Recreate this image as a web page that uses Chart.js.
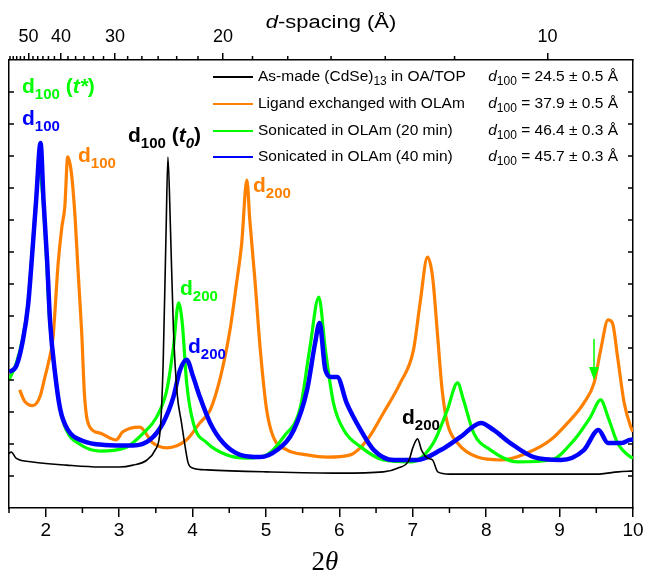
<!DOCTYPE html>
<html>
<head>
<meta charset="utf-8">
<script src="https://cdn.jsdelivr.net/npm/chart.js@4/dist/chart.umd.min.js"></script>
<style>
  html, body { margin: 0; padding: 0; background: #fff; }
  #wrap { width: 645px; height: 574px; }
</style>
</head>
<body>
<div id="wrap"><canvas id="xrd"></canvas></div>
<script>
// Cu K-alpha wavelength (Angstrom) for the d-spacing axis
const LAMBDA = 1.5406;

// As-made (CdSe)13 in OA/TOP
const ttBlack = [1.50, 1.53, 1.60, 1.82, 2.28, 2.74, 3.00, 3.19, 3.38, 3.49, 3.56, 3.60, 3.64, 3.665, 3.70, 3.74, 3.79, 3.85, 3.90, 3.94, 4.00, 4.20, 5.00, 6.00, 6.60, 6.80, 6.95, 7.00, 7.065, 7.12, 7.20, 7.27, 7.34, 7.50, 8.50, 9.50, 9.80, 10.0];
const iBlack  = [1.70, 1.75, 1.55, 1.44, 1.34, 1.28, 1.28, 1.34, 1.50, 1.81, 2.44, 4.53, 8.69, 10.97, 8.69, 5.56, 3.59, 2.66, 1.91, 1.41, 1.25, 1.19, 1.13, 1.09, 1.13, 1.25, 1.50, 1.88, 2.16, 1.81, 1.56, 1.50, 1.13, 1.06, 1.06, 1.06, 1.13, 1.16];

// Ligand exchanged with OLAm
const ttOrange = [1.645, 1.71, 1.82, 1.92, 1.99, 2.03, 2.10, 2.17, 2.22, 2.26, 2.30, 2.35, 2.40, 2.44, 2.49, 2.53, 2.60, 2.74, 2.96, 3.05, 3.28, 3.46, 3.65, 3.92, 4.10, 4.24, 4.38, 4.51, 4.60, 4.67, 4.74, 4.78, 4.85, 4.92, 5.01, 5.10, 5.29, 5.56, 5.83, 6.15, 6.38, 6.60, 6.83, 7.01, 7.10, 7.20, 7.27, 7.34, 7.40, 7.47, 7.61, 7.88, 8.20, 8.56, 8.88, 9.11, 9.33, 9.47, 9.56, 9.66, 9.72, 9.79, 9.88, 9.97, 10.0];
const iOrange  = [3.69, 3.35, 3.20, 3.47, 4.10, 4.47, 5.34, 7.66, 8.78, 9.41, 10.97, 10.47, 9.09, 7.44, 5.50, 3.47, 2.53, 2.34, 2.13, 2.38, 2.53, 2.03, 1.88, 2.13, 2.66, 3.06, 4.09, 5.56, 7.03, 8.28, 10.25, 9.00, 7.13, 5.03, 3.06, 2.22, 1.81, 1.66, 1.59, 1.66, 2.13, 2.97, 3.91, 4.94, 6.41, 7.84, 7.22, 5.34, 3.69, 2.66, 2.03, 1.59, 1.50, 1.72, 2.13, 2.66, 3.28, 3.91, 4.94, 5.88, 5.78, 4.72, 3.28, 2.53, 2.38];

// Sonicated in OLAm (20 min)
const ttGreen = [1.50, 1.60, 1.69, 1.76, 1.82, 1.87, 1.91, 1.96, 2.01, 2.05, 2.12, 2.19, 2.28, 2.46, 2.74, 3.10, 3.33, 3.51, 3.65, 3.74, 3.81, 3.86, 3.92, 4.01, 4.20, 4.47, 4.74, 5.01, 5.24, 5.47, 5.60, 5.72, 5.81, 5.92, 6.06, 6.29, 6.60, 6.97, 7.28, 7.47, 7.61, 7.69, 7.83, 8.06, 8.43, 8.88, 9.20, 9.42, 9.56, 9.66, 9.79, 9.97, 10.0];
const iGreen  = [4.00, 4.53, 5.34, 6.41, 8.16, 9.72, 10.6, 9.72, 7.84, 5.97, 4.31, 3.16, 2.44, 2.00, 1.78, 1.90, 2.34, 2.84, 3.69, 5.03, 6.41, 5.78, 3.91, 2.66, 2.03, 1.66, 1.56, 1.66, 2.22, 3.16, 5.03, 6.59, 4.94, 3.28, 2.44, 1.91, 1.50, 1.44, 2.03, 3.06, 3.91, 3.38, 2.34, 1.81, 1.44, 1.50, 2.13, 2.84, 3.38, 2.84, 2.03, 1.59, 1.56];

// Sonicated in OLAm (40 min)
const ttBlue = [1.50, 1.60, 1.69, 1.76, 1.82, 1.87, 1.93, 1.97, 2.02, 2.06, 2.13, 2.20, 2.30, 2.50, 2.80, 3.19, 3.42, 3.60, 3.74, 3.83, 3.92, 4.01, 4.10, 4.24, 4.42, 4.65, 4.92, 5.15, 5.38, 5.56, 5.67, 5.73, 5.81, 5.90, 5.97, 6.10, 6.29, 6.47, 6.74, 7.06, 7.38, 7.65, 7.93, 8.10, 8.33, 8.65, 9.02, 9.33, 9.53, 9.66, 9.84, 9.97, 10.0];
const iBlue  = [4.25, 4.44, 5.25, 6.34, 8.06, 9.63, 11.41, 9.63, 7.69, 5.81, 4.16, 3.06, 2.45, 2.10, 1.97, 1.95, 2.13, 2.66, 3.47, 4.31, 4.63, 4.09, 3.47, 2.66, 2.03, 1.66, 1.59, 1.81, 2.44, 3.69, 5.16, 5.78, 4.31, 4.09, 4.09, 3.28, 2.44, 1.81, 1.50, 1.50, 1.81, 2.22, 2.66, 2.44, 2.03, 1.59, 1.50, 1.81, 2.44, 2.03, 2.03, 2.13, 2.13];

// axis ticks
const xTicks = [2, 3, 4, 5, 6, 7, 8, 9, 10];
const xMinor = [1.5, 2.5, 3.5, 4.5, 5.5, 6.5, 7.5, 8.5, 9.5];
const dTicks = [50, 40, 30, 20, 10];
const dMinor = [58.33, 56.67, 55, 53.33, 51.67, 48.33, 46.67, 45, 43.33, 41.67, 38.33, 36.67, 35, 33.33, 31.67,
                28.33, 26.67, 25, 23.33, 21.67, 18.33, 16.67, 15, 13.33, 11.67];
const yTicks = [1, 2, 3, 4, 5, 6, 7, 8, 9, 10, 11, 12, 13];

// legend
const seriesNames = ['As-made (CdSe)', 'Ligand exchanged with OLAm', 'Sonicated in OLAm (20 min)', 'Sonicated in OLAm (40 min)'];
const d100Values = ['24.5 \u00b1 0.5 \u00c5', '37.9 \u00b1 0.5 \u00c5', '46.4 \u00b1 0.3 \u00c5', '45.7 \u00b1 0.3 \u00c5'];
const colors = ['#000000', '#ff8000', '#00ff00', '#0000ff'];

const SANS = '"Liberation Sans", Arial, sans-serif';
const SERIF = '"Liberation Serif", "Times New Roman", serif';

function twoTheta(d) { return 2 * Math.asin(LAMBDA / (2 * d)) * 180 / Math.PI; }
function dSpacing(tt) { return LAMBDA / (2 * Math.sin(tt / 2 * Math.PI / 180)); }
function pts(xs, ys) { return xs.map((x, i) => ({ x: x, y: ys[i] })); }

// draw a run of text pieces: [text, font, dy]
function rich(ctx, x, y, parts, align) {
    let w = 0;
    parts.forEach(p => { ctx.font = p[1]; w += ctx.measureText(p[0]).width; });
    let cx = align === 'right' ? x - w : (align === 'center' ? x - w / 2 : x);
    parts.forEach(p => {
        ctx.font = p[1];
        ctx.fillText(p[0], cx, y + (p[2] || 0));
        cx += ctx.measureText(p[0]).width;
    });
}

const B21 = 'bold 21px ' + SANS;
const B15 = 'bold 15px ' + SANS;
const BI21 = 'italic bold 21px ' + SANS;
const BI15 = 'italic bold 15px ' + SANS;

// peak labels, anchored in data coordinates (2theta, intensity)
const peakLabels = [
    { at: [1.677, 12.97], color: colors[2], parts: [['d', B21], ['100', B15, 6], [' (', B21], ['t*', BI21], [')', B21]] },
    { at: [1.677, 11.97], color: colors[3], parts: [['d', B21], ['100', B15, 6]] },
    { at: [3.121, 11.44], color: colors[0], parts: [['d', B21], ['100', B15, 6], [' (', B21], ['t', BI21], ['0', BI15, 6], [')', B21]] },
    { at: [2.44, 10.81], color: colors[1], parts: [['d', B21], ['100', B15, 6]] },
    { at: [4.824, 9.875], color: colors[1], parts: [['d', B21], ['200', B15, 6]] },
    { at: [3.829, 6.66], color: colors[2], parts: [['d', B21], ['200', B15, 6]] },
    { at: [3.938, 4.84], color: colors[3], parts: [['d', B21], ['200', B15, 6]] },
    { at: [6.854, 2.625], color: colors[0], parts: [['d', B21], ['200', B15, 6]] }
];

const extras = {
    id: 'extras',
    afterDraw(chart) {
        const ctx = chart.ctx;
        const xs = chart.scales.x, ys = chart.scales.y, area = chart.chartArea;
        ctx.save();
        ctx.strokeStyle = '#000';
        ctx.lineWidth = 1.5;
        ctx.beginPath();
        // bottom minor ticks
        xMinor.forEach(v => { const px = xs.getPixelForValue(v); ctx.moveTo(px, area.bottom); ctx.lineTo(px, area.bottom + 5); });
        // top minor ticks
        dMinor.forEach(d => { const px = xs.getPixelForValue(twoTheta(d)); ctx.moveTo(px, area.top); ctx.lineTo(px, area.top - 4); });
        // left / right inward ticks
        yTicks.forEach(v => {
            const py = ys.getPixelForValue(v);
            ctx.moveTo(area.left, py); ctx.lineTo(area.left + 5, py);
            ctx.moveTo(area.right, py); ctx.lineTo(area.right - 5, py);
        });
        ctx.stroke();

        // green arrow near 9.47
        const ax = xs.getPixelForValue(9.469);
        const ay0 = ys.getPixelForValue(5.28), ay1 = ys.getPixelForValue(4.0);
        ctx.strokeStyle = colors[2];
        ctx.fillStyle = colors[2];
        ctx.lineWidth = 1.5;
        ctx.beginPath(); ctx.moveTo(ax, ay0); ctx.lineTo(ax, ay1 - 10); ctx.stroke();
        ctx.beginPath(); ctx.moveTo(ax - 5, ay1 - 13); ctx.lineTo(ax + 5, ay1 - 13); ctx.lineTo(ax, ay1); ctx.closePath(); ctx.fill();

        // peak labels
        ctx.textBaseline = 'alphabetic';
        peakLabels.forEach(l => {
            ctx.fillStyle = l.color;
            rich(ctx, xs.getPixelForValue(l.at[0]), ys.getPixelForValue(l.at[1]), l.parts, 'left');
        });

        // legend
        const rowY = [77, 104, 131, 157];
        const F = '15.5px ' + SANS, FS = '12px ' + SANS, FI = 'italic 15.5px ' + SANS;
        seriesNames.forEach((name, i) => {
            const y = rowY[i];
            ctx.strokeStyle = colors[i];
            ctx.lineWidth = 2;
            ctx.beginPath(); ctx.moveTo(213, y); ctx.lineTo(253, y); ctx.stroke();
            ctx.fillStyle = '#000';
            ctx.textBaseline = 'middle';
            const parts = i === 0 ? [[name, F], ['13', FS, 5], [' in OA/TOP', F]] : [[name, F]];
            rich(ctx, 258, y, parts, 'left');
            rich(ctx, 618, y, [['d', FI], ['100', FS, 5], [' = ' + d100Values[i], F]], 'right');
        });

        // axis titles
        ctx.textBaseline = 'alphabetic';
        ctx.fillStyle = '#000';
        ctx.save();
        ctx.translate(331, 28);
        ctx.scale(1.22, 1);
        rich(ctx, 0, 0, [['d', 'italic 18px ' + SANS], ['-spacing (\u00c5)', '18px ' + SANS]], 'center');
        ctx.restore();
        rich(ctx, 325, 570, [['2', '27px ' + SERIF], ['\u03b8', 'italic 27px ' + SERIF]], 'center');
        ctx.restore();
    }
};

function lineSet(label, xs, ys, color, width, order) {
    return {
        label: label,
        data: pts(xs, ys),
        borderColor: color,
        borderWidth: width,
        pointRadius: 0,
        cubicInterpolationMode: 'monotone',
        fill: false,
        order: order
    };
}

const frame = { color: '#000', width: 1.5 };

new Chart(document.getElementById('xrd'), {
    type: 'line',
    data: {
        datasets: [
            lineSet(seriesNames[0], ttBlack, iBlack, colors[0], 1.6, 0),
            lineSet(seriesNames[1], ttOrange, iOrange, colors[1], 3.2, 3),
            lineSet(seriesNames[2], ttGreen, iGreen, colors[2], 3.2, 2),
            lineSet(seriesNames[3], ttBlue, iBlue, colors[3], 4.5, 1)
        ]
    },
    options: {
        responsive: true,
        maintainAspectRatio: false,
        animation: false,
        layout: { padding: 0 },
        plugins: { legend: { display: false }, tooltip: { enabled: false } },
        scales: {
            x: {
                type: 'linear', position: 'bottom', min: 1.5, max: 10,
                afterBuildTicks: s => { s.ticks = xTicks.map(v => ({ value: v })); },
                afterFit: s => { s.height = 66; s.paddingLeft = 0; s.paddingRight = 0; },
                ticks: { color: '#000', font: { family: SANS, size: 19 }, padding: 2, maxRotation: 0, autoSkip: false },
                grid: { drawOnChartArea: false, tickLength: 9, color: '#000', lineWidth: 1.5 },
                border: frame
            },
            x2: {
                type: 'linear', position: 'top', min: 1.5, max: 10,
                afterBuildTicks: s => { s.ticks = dTicks.map(d => ({ value: twoTheta(d) })); },
                afterFit: s => { s.height = 60; s.paddingLeft = 0; s.paddingRight = 0; },
                ticks: {
                    color: '#000', font: { family: SANS, size: 18 }, padding: 5, maxRotation: 0, autoSkip: false,
                    callback: v => Math.round(dSpacing(v))
                },
                grid: { drawOnChartArea: false, tickLength: 7, color: '#000', lineWidth: 1.5 },
                border: frame
            },
            y: {
                min: 0, max: 14,
                afterFit: s => { s.width = 9; },
                ticks: { display: false },
                grid: { drawOnChartArea: false, drawTicks: false },
                border: frame
            },
            y2: {
                position: 'right', min: 0, max: 14,
                afterFit: s => { s.width = 12; },
                ticks: { display: false },
                grid: { drawOnChartArea: false, drawTicks: false },
                border: frame
            }
        }
    },
    plugins: [extras]
});
</script>
</body>
</html>
